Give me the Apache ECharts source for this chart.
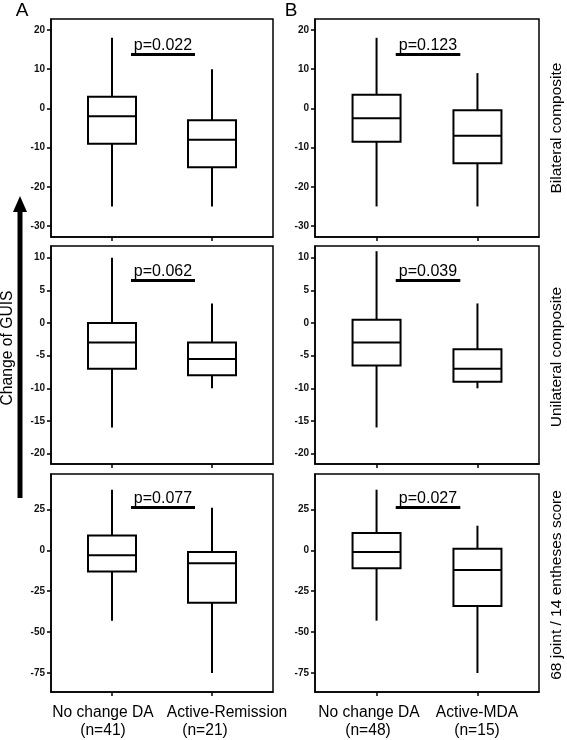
<!DOCTYPE html>
<html>
<head>
<meta charset="utf-8">
<script src="https://cdn.jsdelivr.net/npm/echarts@6/dist/echarts.min.js"></script>
<style>
    html, body { margin: 0; padding: 0; background: #fff; }
    #chart { width: 567px; height: 740px; }
</style>
</head>
<body>
<div id="chart"></div>
<script>
'use strict';

// categories / texts
var groupsA = ['No change DA', 'Active-Remission'];
var groupsB = ['No change DA', 'Active-MDA'];
var countsA = ['(n=41)', '(n=21)'];
var countsB = ['(n=48)', '(n=15)'];
var rowNames = ['Bilateral composite', 'Unilateral composite', '68 joint / 14 entheses score'];

// box stats per group: [min, Q1, median, Q3, max]
var bilateralA = [[-25, -9, -2, 3, 18], [-25, -15, -8, -3, 10]];
var bilateralB = [[-25, -8.5, -2.5, 3.5, 18], [-25, -14, -7, -0.5, 9]];
var unilateralA = [[-16, -7, -3, 0, 10], [-10, -8, -5.5, -3, 3]];
var unilateralB = [[-16, -6.5, -3, 0.5, 11], [-10, -9, -7, -4, 3]];
var jointA = [[-43, -13, -3, 9, 37], [-75, -32, -8, -1, 26]];
var jointB = [[-43, -11, -1, 10.5, 37], [-75, -34, -12, 1, 15]];

var pValuesA = ['p=0.022', 'p=0.062', 'p=0.077'];
var pValuesB = ['p=0.123', 'p=0.039', 'p=0.027'];

// y tick labels per row
var ticksBilateral = [20, 10, 0, -10, -20, -30];
var ticksUnilateral = [10, 5, 0, -5, -10, -15, -20];
var ticksJoint = [25, 0, -25, -50, -75];

(function (echarts) {

    var FONT = '"Liberation Sans", Arial, Helvetica, sans-serif';

    // layout of the 3 x 2 panels
    var rows = [
        {top: 19, ticks: ticksBilateral, range: [-32.8, 22.8], barY: 13.8, data: [bilateralA, bilateralB], p: [pValuesA[0], pValuesB[0]]},
        {top: 246, ticks: ticksUnilateral, range: [-21.6, 11.8], barY: 6.5, data: [unilateralA, unilateralB], p: [pValuesA[1], pValuesB[1]]},
        {top: 474, ticks: ticksJoint, range: [-86.6, 46.6], barY: 26.3, data: [jointA, jointB], p: [pValuesA[2], pValuesB[2]]}
    ];
    var cols = [{left: 51, width: 222}, {left: 315, width: 224}];
    var PANEL_H = 218;
    var axisBlack = {color: '#000', width: 1.5};

    function renderBox(params, api) {
        var x = api.value(0),
            lo = api.coord([x, api.value(1)]),
            q1 = api.coord([x, api.value(2)]),
            md = api.coord([x, api.value(3)]),
            q3 = api.coord([x, api.value(4)]),
            hi = api.coord([x, api.value(5)]),
            hw = 24,
            line = {stroke: '#000', lineWidth: 2};

        return {
            type: 'group',
            children: [
                {type: 'line', shape: {x1: hi[0], y1: hi[1], x2: q3[0], y2: q3[1]}, style: line},
                {type: 'line', shape: {x1: q1[0], y1: q1[1], x2: lo[0], y2: lo[1]}, style: line},
                {type: 'rect', shape: {x: q3[0] - hw, y: q3[1], width: hw * 2, height: q1[1] - q3[1]},
                    style: {fill: '#fff', stroke: '#000', lineWidth: 2}},
                {type: 'line', shape: {x1: md[0] - hw, y1: md[1], x2: md[0] + hw, y2: md[1]}, style: line}
            ]
        };
    }

    var grid = [], xAxis = [], yAxis = [], series = [];

    rows.forEach(function (row, r) {
        cols.forEach(function (col, c) {
            var idx = grid.length;

            grid.push({
                left: col.left, top: row.top, width: col.width, height: PANEL_H,
                show: true, borderColor: '#000', borderWidth: 1.5
            });

            xAxis.push({
                gridIndex: idx,
                type: 'value',
                min: 0.39,
                max: 2.61,
                axisLine: {show: true, onZero: false, lineStyle: axisBlack},
                splitLine: {show: false},
                axisLabel: {show: true, customValues: [1, 2], formatter: function () { return ''; }},
                axisTick: {show: true, length: 4, customValues: [1, 2], lineStyle: axisBlack}
            });

            yAxis.push({
                gridIndex: idx,
                type: 'value',
                min: row.range[0],
                max: row.range[1],
                axisLine: {show: true, onZero: false, lineStyle: axisBlack},
                splitLine: {show: false},
                axisTick: {show: true, length: 4, customValues: row.ticks, lineStyle: axisBlack},
                axisLabel: {customValues: row.ticks, fontSize: 10, fontWeight: 'bold', color: '#111', margin: 6, fontFamily: FONT}
            });

            series.push({
                type: 'custom',
                xAxisIndex: idx,
                yAxisIndex: idx,
                renderItem: renderBox,
                encode: {x: 0, y: [1, 2, 3, 4, 5]},
                data: row.data[c].map(function (s, i) { return [i + 1].concat(s); }),
                markLine: {
                    silent: true,
                    symbol: ['none', 'none'],
                    lineStyle: {color: '#000', width: 3, type: 'solid'},
                    label: {
                        show: true,
                        position: 'insideMiddleTop',
                        distance: 1,
                        formatter: row.p[c],
                        color: '#000',
                        fontSize: 16,
                        fontFamily: FONT
                    },
                    data: [[{coord: [1.19, row.barY]}, {coord: [1.83, row.barY]}]]
                }
            });
        });
    });

    var graphic = [];

    function text(str, x, y, size, rot) {
        graphic.push({
            type: 'text', x: x, y: y, rotation: rot || 0,
            style: {text: str, fontSize: size, fontFamily: FONT, fill: '#000', align: 'center', verticalAlign: 'middle'}
        });
    }

    // panel letters
    text('A', 22, 11, 19);
    text('B', 291, 11, 19);

    // row titles on the right
    text(rowNames[0], 557, 128, 15.5, Math.PI / 2);
    text(rowNames[1], 557, 357, 15.5, Math.PI / 2);
    text(rowNames[2], 557, 585, 15.5, Math.PI / 2);

    // shared y title with arrow
    text('Change of GUIS', 8, 348, 15.7, Math.PI / 2);
    graphic.push({type: 'rect', shape: {x: 17.5, y: 210, width: 5, height: 288}, style: {fill: '#000'}});
    graphic.push({type: 'polygon', shape: {points: [[13, 212], [27, 212], [20, 196]]}, style: {fill: '#000'}});

    // category labels under bottom panels
    var nameX = [[103, 227], [369, 477]],
        countX = [[103, 205], [368, 477]];
    [groupsA, groupsB].forEach(function (g, c) {
        g.forEach(function (name, i) { text(name, nameX[c][i], 713, 15.6); });
    });
    [countsA, countsB].forEach(function (g, c) {
        g.forEach(function (name, i) { text(name, countX[c][i], 731, 15.6); });
    });

    var chart = echarts.init(document.getElementById('chart'), null, {renderer: 'canvas'});
    chart.setOption({
        animation: false,
        backgroundColor: '#fff',
        grid: grid,
        xAxis: xAxis,
        yAxis: yAxis,
        series: series,
        graphic: graphic
    });

})(echarts);
</script>
</body>
</html>
